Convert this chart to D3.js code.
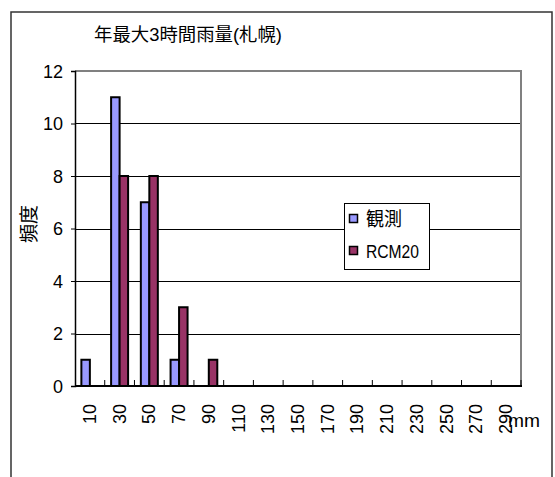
<!DOCTYPE html>
<html>
<head>
<meta charset="utf-8">
<script src="https://cdn.jsdelivr.net/npm/d3@7"></script>
<style>
  html, body { margin: 0; padding: 0; background: #fff; }
  svg { display: block; }
  text { font-family: "Liberation Sans", Arial, "Noto Sans CJK JP", sans-serif; fill: #000; }
</style>
</head>
<body>
<svg id="chart" width="555" height="477"></svg>
<script>
// Annual maximum 3-hour rainfall (Sapporo): frequency per 20 mm class
const categories = ["10","30","50","70","90","110","130","150","170","190","210","230","250","270","290"];
const observed   = [1, 11, 7, 1, 0, 0, 0, 0, 0, 0, 0, 0, 0, 0, 0];
const rcm20      = [0, 8, 8, 3, 1, 0, 0, 0, 0, 0, 0, 0, 0, 0, 0];
const seriesNames = ["観測", "RCM20"];
const yTicks = [0, 2, 4, 6, 8, 10, 12];
const titleText = "年最大3時間雨量(札幌)";
const yTitle = "頻度";
const unitText = "mm";

const colors = ["#9999FF", "#993366"];
const svg = d3.select("#chart");
const plot = { left: 75, top: 71, right: 521, bottom: 386 };

// outer chart frame (open at the bottom edge of the page)
svg.append("path")
  .attr("d", "M11,480 V12 H552 V480")
  .attr("fill", "none").attr("stroke", "#333").attr("stroke-width", 1.5);

const x = d3.scaleBand().domain(categories).range([plot.left, plot.right]).paddingInner(0).paddingOuter(0);
const y = d3.scaleLinear().domain([0, 12]).range([plot.bottom, plot.top]);

// inner bar groups: two bars per band with gap of 150% of a bar width
const bw = x.bandwidth() / 3.5;
const x1 = d3.scaleBand().domain([0, 1]).range([0.75 * bw, 2.75 * bw]).padding(0);

// grid lines
svg.append("g").selectAll("line")
  .data(yTicks.filter(t => t > 0 && t < 12))
  .join("line")
  .attr("x1", plot.left).attr("x2", plot.right)
  .attr("y1", d => Math.round(y(d)) + 0.5).attr("y2", d => Math.round(y(d)) + 0.5)
  .attr("stroke", "#000").attr("stroke-width", 1);

// top and right plot border in gray
svg.append("path")
  .attr("d", `M${plot.left},${plot.top} H${plot.right} V${plot.bottom}`)
  .attr("fill", "none").attr("stroke", "#808080").attr("stroke-width", 2);

// bars
const series = [observed, rcm20];
series.forEach((vals, si) => {
  svg.append("g").selectAll("rect")
    .data(vals.map((v, i) => ({ c: categories[i], v })).filter(d => d.v > 0))
    .join("rect")
    .attr("x", d => x(d.c) + x1(si))
    .attr("y", d => y(d.v))
    .attr("width", x1.bandwidth())
    .attr("height", d => y(0) - y(d.v))
    .attr("fill", colors[si])
    .attr("stroke", "#000").attr("stroke-width", 2);
});

// y axis
const yAxis = d3.axisLeft(y).tickValues(yTicks).tickSize(4).tickPadding(8).tickFormat(d3.format("d"));
const gy = svg.append("g").attr("transform", `translate(${plot.left},0)`).call(yAxis);
gy.select(".domain").attr("stroke", "#000").attr("stroke-width", 1.5);
gy.selectAll(".tick line").attr("stroke", "#000");
gy.selectAll(".tick text").attr("font-size", 18).attr("font-family", "Liberation Sans, Arial, sans-serif").attr("dy", "0.34em").attr("x", -12);

// x axis: ticks between bands pointing up into the plot
const gx = svg.append("g");
gx.append("line")
  .attr("x1", plot.left).attr("x2", plot.right + 1)
  .attr("y1", plot.bottom).attr("y2", plot.bottom)
  .attr("stroke", "#000").attr("stroke-width", 2);
gx.selectAll("line.tk")
  .data(categories.slice(1).concat(["_end"]))
  .join("line").attr("class", "tk")
  .attr("x1", d => d === "_end" ? plot.right : x(d))
  .attr("x2", d => d === "_end" ? plot.right : x(d))
  .attr("y1", plot.bottom).attr("y2", plot.bottom - 6)
  .attr("stroke", "#000").attr("stroke-width", 1);

gx.selectAll("text.xl")
  .data(categories)
  .join("text").attr("class", "xl")
  .attr("transform", d => `translate(${x(d) + x.bandwidth() / 2 + 6},404) rotate(-90)`)
  .attr("text-anchor", "end")
  .attr("font-size", 18)
  .text(d => d);

// unit label
svg.append("text")
  .attr("x", 508).attr("y", 427)
  .attr("font-size", 18)
  .attr("textLength", 32).attr("lengthAdjust", "spacingAndGlyphs")
  .text(unitText);

// title
svg.append("text")
  .attr("x", 94).attr("y", 41)
  .attr("font-size", 18)
  .attr("font-family", "Noto Sans CJK JP, sans-serif")
  .attr("textLength", 188).attr("lengthAdjust", "spacingAndGlyphs")
  .text(titleText);

// y axis title
svg.append("text")
  .attr("transform", "translate(36,224) rotate(-90)")
  .attr("text-anchor", "middle")
  .attr("font-size", 19)
  .attr("font-family", "Noto Sans CJK JP, sans-serif")
  .text(yTitle);

// legend
const lg = svg.append("g");
lg.append("rect")
  .attr("x", 344.5).attr("y", 203.5).attr("width", 85).attr("height", 66)
  .attr("fill", "#fff").attr("stroke", "#000").attr("stroke-width", 1);
seriesNames.forEach((name, i) => {
  const cy = 219 + i * 32;
  lg.append("rect")
    .attr("x", 349.5).attr("y", cy - 4.5).attr("width", 8).attr("height", 8)
    .attr("fill", colors[i]).attr("stroke", "#000").attr("stroke-width", 1.5);
  lg.append("text")
    .attr("x", 366).attr("y", cy + 7)
    .attr("font-size", 19)
    .attr("font-family", i === 0 ? "Noto Sans CJK JP, sans-serif" : "Liberation Sans, Arial, sans-serif")
    .attr("textLength", i === 0 ? 36 : 53).attr("lengthAdjust", "spacingAndGlyphs")
    .text(name);
});
</script>
</body>
</html>
